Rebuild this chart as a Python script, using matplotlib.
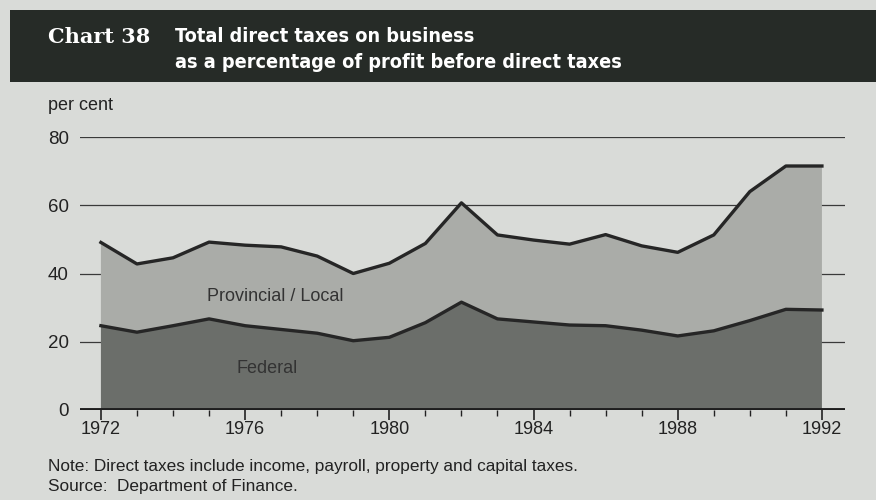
import matplotlib
matplotlib.use("Agg")
import matplotlib.pyplot as plt
import numpy as np
from matplotlib.patches import Rectangle

years = list(range(1972, 1993))
total = [49.1, 42.8, 44.6, 49.2, 48.3, 47.8, 45.1, 40.0, 43.0, 48.8, 60.7,
         51.3, 49.8, 48.6, 51.4, 48.1, 46.2, 51.3, 64.0, 71.5, 71.5]
federal = [24.7, 22.8, 24.7, 26.7, 24.7, 23.6, 22.5, 20.3, 21.3, 25.6, 31.6,
           26.7, 25.8, 24.9, 24.7, 23.4, 21.7, 23.2, 26.2, 29.5, 29.3]
provincial = [t - f for t, f in zip(total, federal)]
xtick_years = [1972, 1976, 1980, 1984, 1988, 1992]
yticks = [0, 20, 40, 60, 80]

bg = "#d9dbd8"
fig = plt.figure(figsize=(8.76, 5.0), dpi=100, facecolor=bg)

# header bar
fig.patches.append(Rectangle((10/876, 1-82/500), 1, 72/500, transform=fig.transFigure,
                             facecolor="#262b27", edgecolor="none", zorder=0))
fig.text(48/876, 1-37/500, "Chart 38", color="white", fontsize=15,
         family="DejaVu Serif", weight="bold", va="center", ha="left")
fig.text(175/876, 1-36/500, "Total direct taxes on business", color="white",
         fontsize=14.2, family="DejaVu Sans", stretch="condensed", weight="bold",
         va="center", ha="left")
fig.text(175/876, 1-63/500, "as a percentage of profit before direct taxes", color="white",
         fontsize=14.2, family="DejaVu Sans", stretch="condensed", weight="bold",
         va="center", ha="left")

ax = fig.add_axes([80/876, 1-410/500, (845-80)/876, (410-137)/500])
ax.set_facecolor("none")
ax.set_xlim(1971.42, 1992.64)
ax.set_ylim(0, 80)

for y in yticks[1:]:
    ax.axhline(y, color="#3a3a3a", lw=0.9, zorder=1)

ax.stackplot(years, federal, provincial, colors=["#6b6e6a", "#aaaca8"], zorder=2)
ax.plot(years, federal, color="#262626", lw=2.4, zorder=3)
ax.plot(years, total, color="#262626", lw=2.4, zorder=3)
ax.axhline(0, color="#1e1e1e", lw=2.8, zorder=4)

for s in ax.spines.values():
    s.set_visible(False)

ax.set_yticks(yticks)
ax.set_yticklabels([str(v) for v in yticks], fontsize=13.5, color="#222222",
                   family="Liberation Sans")
ax.tick_params(axis="y", length=0, pad=8)
ax.set_xticks(years, minor=True)
ax.set_xticks(xtick_years)
ax.set_xticklabels([str(v) for v in xtick_years], fontsize=13, color="#222222",
                   family="Liberation Sans")
ax.tick_params(axis="x", which="major", length=7, width=1.2, color="#222222", direction="out", pad=1)
ax.tick_params(axis="x", which="minor", length=4, width=1.0, color="#222222", direction="out")

ax.text(1976.83, 33.4, "Provincial / Local", fontsize=13, color="#333333",
        family="Liberation Sans", ha="center", va="center", zorder=5)
ax.text(1976.6, 12.3, "Federal", fontsize=13, color="#333333",
        family="Liberation Sans", ha="center", va="center", zorder=5)

fig.text(48/876, 1-106/500, "per cent", fontsize=13, color="#222222",
         family="Liberation Sans", va="center", ha="left")
fig.text(48/876, 1-466/500, "Note: Direct taxes include income, payroll, property and capital taxes.",
         fontsize=12.4, color="#222222", family="Liberation Sans", va="center", ha="left")
fig.text(48/876, 1-487/500, "Source:  Department of Finance.",
         fontsize=12.4, color="#222222", family="Liberation Sans", va="center", ha="left")

fig.savefig("out.png", dpi=100, facecolor=bg)
